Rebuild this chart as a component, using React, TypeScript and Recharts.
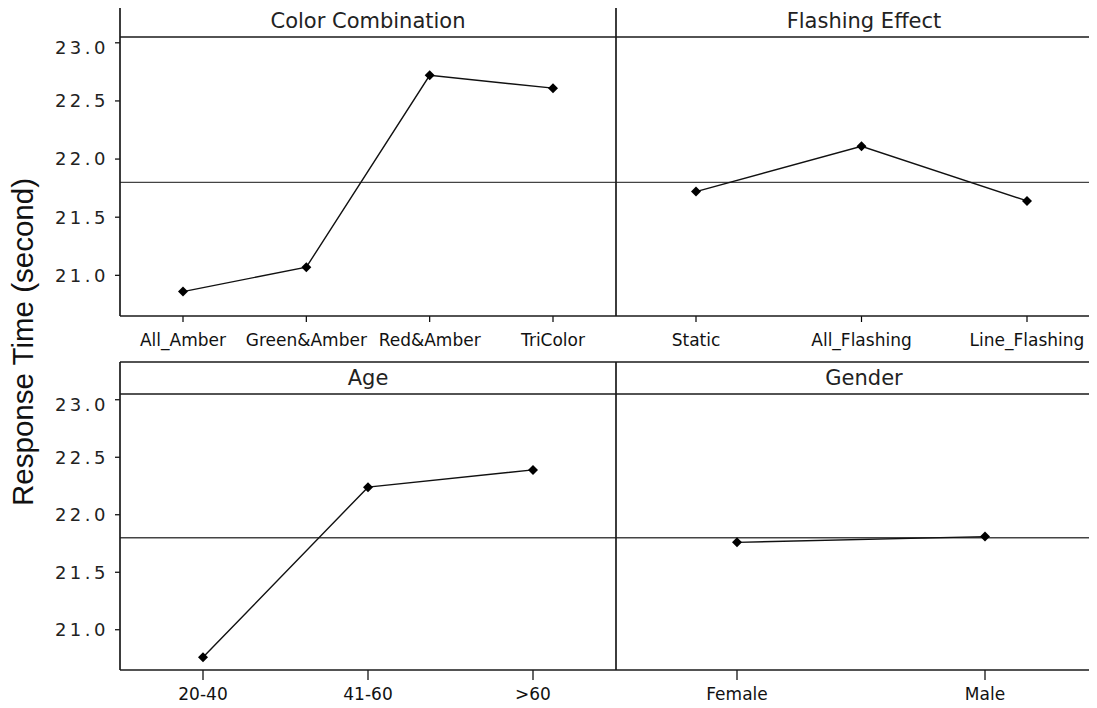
import React from "react";
import { LineChart, Line, XAxis, YAxis, ReferenceLine } from "recharts";

// main effects: mean response time per factor level
const colorLevels = ["All_Amber", "Green&Amber", "Red&Amber", "TriColor"];
const colorMeans = [20.86, 21.07, 22.72, 22.61];
const flashLevels = ["Static", "All_Flashing", "Line_Flashing"];
const flashMeans = [21.72, 22.11, 21.64];
const ageLevels = ["20-40", "41-60", ">60"];
const ageMeans = [20.76, 22.24, 22.39];
const genderLevels = ["Female", "Male"];
const genderMeans = [21.76, 21.81];

const yTicks = [21.0, 21.5, 22.0, 22.5, 23.0];
const grandMean = 21.8;
const yDomain: [number, number] = [20.65, 23.05];

const FONT = "DejaVu Sans, Verdana, sans-serif";
const INK = "#111";

const Diamond = (props: any) => {
  const { cx, cy } = props;
  if (cx == null || cy == null) return null;
  const r = 5;
  return (
    <path
      d={`M${cx},${cy - r}L${cx + r},${cy}L${cx},${cy + r}L${cx - r},${cy}Z`}
      fill="#000"
    />
  );
};

interface PanelProps {
  levels: string[];
  means: number[];
  left: number;
  top: number;
  plotHeight: number;
  showY: boolean;
  pad: { left: number; right: number };
  tickSize: number;
}

function Panel({ levels, means, left, top, plotHeight, showY, pad, tickSize }: PanelProps) {
  const data = levels.map((l, i) => ({ level: l, mean: means[i] }));
  const yW = showY ? 120 : 0;
  const xH = 40;
  return (
    <div style={{ position: "absolute", left, top }}>
      <LineChart
        width={yW + 496}
        height={plotHeight + xH}
        data={data}
        margin={{ top: 0, right: 0, bottom: 0, left: 0 }}
      >
        <XAxis
          dataKey="level"
          interval={0}
          padding={pad}
          axisLine={false}
          tickSize={tickSize}
          tickMargin={18 - tickSize}
          height={xH}
          tickLine={{ stroke: "#000", strokeWidth: 1.2 }}
          tick={{ fill: INK, fontSize: 17, fontFamily: FONT }}
        />
        <YAxis
          type="number"
          domain={yDomain}
          ticks={yTicks}
          allowDataOverflow
          hide={!showY}
          width={yW}
          axisLine={false}
          tickSize={5}
          tickMargin={6}
          tickLine={{ stroke: "#000", strokeWidth: 1.2 }}
          tickFormatter={(v: number) => v.toFixed(1)}
          tick={{ fill: "#222", fontSize: 18, fontFamily: FONT, letterSpacing: 3.5 }}
        />
        <ReferenceLine y={grandMean} stroke="#444" strokeWidth={1.3} />
        <Line
          dataKey="mean"
          stroke="#111"
          strokeWidth={1.4}
          dot={<Diamond />}
          activeDot={false}
          isAnimationActive={false}
        />
      </LineChart>
    </div>
  );
}

export default function App() {
  const L = 120;
  const M = 616;
  const R = 1112;
  const rows = [
    { boxTop: 6, head: 37, bottom: 316, titles: ["Color Combination", "Flashing Effect"] },
    { boxTop: 362, head: 394, bottom: 670, titles: ["Age", "Gender"] },
  ];
  return (
    <div
      style={{
        position: "relative",
        width: 1097,
        height: 708,
        margin: -8,
        overflow: "hidden",
        background: "#fff",
        fontFamily: FONT,
      }}
    >
      <Panel levels={colorLevels} means={colorMeans} left={0} top={37} plotHeight={279} showY pad={{ left: 63, right: 63 }} tickSize={6} />
      <Panel levels={flashLevels} means={flashMeans} left={M} top={37} plotHeight={279} showY={false} pad={{ left: 80, right: 85 }} tickSize={6} />
      <Panel levels={ageLevels} means={ageMeans} left={0} top={394} plotHeight={276} showY pad={{ left: 83, right: 83 }} tickSize={10} />
      <Panel levels={genderLevels} means={genderMeans} left={M} top={394} plotHeight={276} showY={false} pad={{ left: 121, right: 127 }} tickSize={10} />

      <svg
        width={1140}
        height={708}
        style={{ position: "absolute", left: 0, top: 0, pointerEvents: "none" }}
      >
        {rows.map((r, i) => (
          <g key={i} stroke="#1a1a1a" strokeWidth={1.7} fill="none">
            <line x1={L} y1={r.boxTop} x2={1140} y2={r.boxTop} />
            <line x1={L} y1={r.head} x2={1140} y2={r.head} />
            <line x1={L} y1={r.bottom} x2={1140} y2={r.bottom} />
            <line x1={L} y1={r.boxTop} x2={L} y2={r.bottom} />
            <line x1={M} y1={r.boxTop} x2={M} y2={r.bottom} />
            <text x={(L + M) / 2} y={r.head - 9} textAnchor="middle" fill="#222" stroke="none" fontSize={21} fontFamily={FONT}>
              {r.titles[0]}
            </text>
            <text x={(M + R) / 2} y={r.head - 9} textAnchor="middle" fill="#222" stroke="none" fontSize={21} fontFamily={FONT}>
              {r.titles[1]}
            </text>
          </g>
        ))}
        <text
          transform="rotate(-90)"
          x={-342}
          y={33}
          textAnchor="middle"
          fill="#111"
          fontSize={29.5}
          fontFamily="Liberation Sans, Arial, sans-serif"
        >
          Response Time (second)
        </text>
      </svg>
    </div>
  );
}
